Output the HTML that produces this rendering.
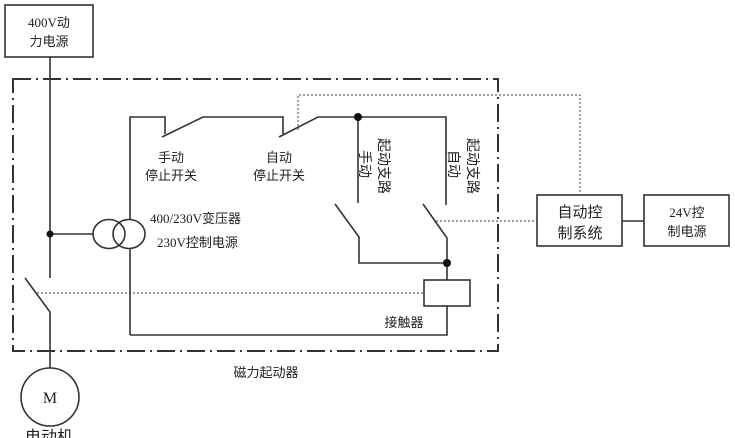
<!DOCTYPE html>
<html><head><meta charset="utf-8"><style>
html,body{margin:0;padding:0;background:#fff;}
svg{display:block;}
text{font-family:"Liberation Serif","Noto Sans CJK SC",sans-serif;fill:#222;font-size:13px;}
.c{font-family:"Liberation Sans","Noto Sans CJK SC",sans-serif;}
</style></head><body>
<svg width="735" height="438" viewBox="0 0 735 438" xmlns="http://www.w3.org/2000/svg">
<g stroke="#333" stroke-width="1.6" fill="none">
<rect x="5" y="5" width="88" height="52"/>
<line x1="50" y1="57" x2="50" y2="278"/>
<path d="M13 79 H498 V351 H13 Z" stroke-dasharray="18,5,2,5" stroke-width="2"/>
<line x1="50" y1="234" x2="93" y2="234"/>
<ellipse cx="109" cy="234" rx="16" ry="14.5"/>
<ellipse cx="129" cy="234" rx="16" ry="14.5"/>
<polyline points="25,278 50,312 50,368"/>
<circle cx="50" cy="397" r="29"/>
<polyline points="130,219 130,117 165,117 165,134"/>
<line x1="130" y1="249" x2="130" y2="335"/>
<polyline points="162,137 203,117 283,117 283,134"/>
<polyline points="279,137 318,117 446,117 446,205"/>
<line x1="358" y1="117" x2="358" y2="203"/>
<polyline points="335,204 359,237 359,263 447,263"/>
<polyline points="423,204 447,238 447,280"/>
<rect x="424" y="280" width="46" height="26"/>
<polyline points="447,306 447,335 130,335"/>
<rect x="537" y="195" width="85" height="51"/>
<rect x="644" y="195" width="85" height="51"/>
<line x1="622" y1="221" x2="644" y2="221"/>
</g>
<g stroke="#444" stroke-width="1" fill="none" stroke-dasharray="2,2">
<polyline points="298,130 298,95 580,95 580,195"/>
<line x1="436" y1="221" x2="537" y2="221"/>
<line x1="37" y1="293" x2="424" y2="293"/>
</g>
<g fill="#111">
<circle cx="50" cy="234" r="3.5"/>
<circle cx="358" cy="117" r="4"/>
<circle cx="447" cy="263" r="4"/>
</g>
<text x="49" y="27" text-anchor="middle">400V动</text>
<text x="49" y="46" text-anchor="middle" class="c">力电源</text>
<text x="171" y="162" text-anchor="middle" class="c">手动</text>
<text x="171" y="180" text-anchor="middle" class="c">停止开关</text>
<text x="279" y="162" text-anchor="middle" class="c">自动</text>
<text x="279" y="180" text-anchor="middle" class="c">停止开关</text>
<text x="150" y="223">400/230V变压器</text>
<text x="157" y="247">230V控制电源</text>
<text class="c" style="font-size:14px" transform="translate(360,150) rotate(90)">手动</text>
<text class="c" style="font-size:14px" transform="translate(379,138) rotate(90)">起动支路</text>
<text class="c" style="font-size:14px" transform="translate(449,150) rotate(90)">自动</text>
<text class="c" style="font-size:14px" transform="translate(468,138) rotate(90)">起动支路</text>
<text x="404" y="327" text-anchor="middle" class="c">接触器</text>
<text x="580" y="217" text-anchor="middle" class="c" style="font-size:15px">自动控</text>
<text x="580" y="238" text-anchor="middle" class="c" style="font-size:15px">制系统</text>
<text x="687" y="217" text-anchor="middle">24V控</text>
<text x="687" y="236" text-anchor="middle" class="c">制电源</text>
<text x="266" y="377" text-anchor="middle" class="c">磁力起动器</text>
<text x="50" y="403" text-anchor="middle" style="font-size:16px">M</text>
<text x="49" y="442" text-anchor="middle" class="c" style="font-size:16px">电动机</text>
</svg>
</body></html>
